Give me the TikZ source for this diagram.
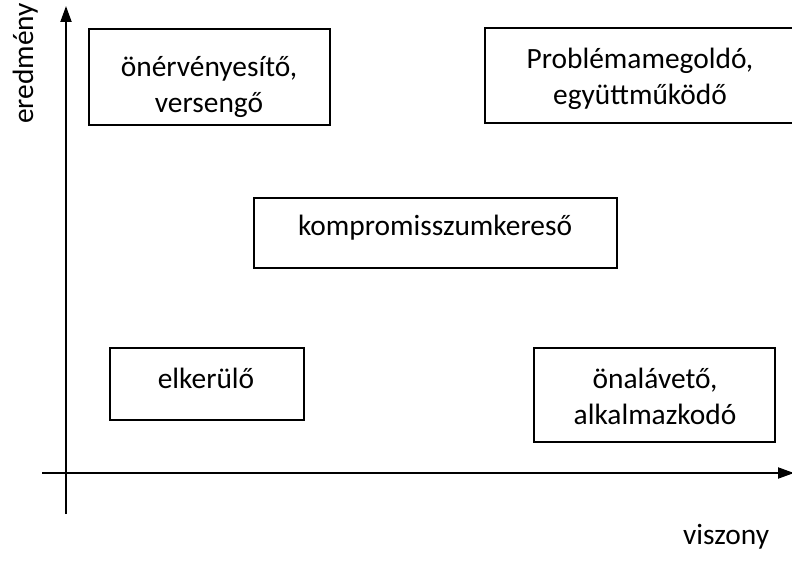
\documentclass[tikz,border=0pt]{standalone}
\usepackage{fontspec}
\setmainfont{Carlito}
\usetikzlibrary{arrows.meta}
\begin{document}
\begin{tikzpicture}[x=1pt,y=-1pt,
  box/.style={draw,line width=1.5pt},
  lbl/.style={font=\fontsize{29.4}{36}\selectfont,align=center,inner sep=0pt},
  axis/.style={line width=1.9pt,-{Triangle[length=16pt,width=11pt]}}]
\useasboundingbox (0,0) rectangle (792,561);
% axes
\coordinate (xs) at (42,473);
\coordinate (xe) at (794,473);
\coordinate (ys) at (66,514);
\coordinate (ye) at (66,6);
\draw[axis] (xs) -- (xe);
\draw[axis] (ys) -- (ye);
% category boxes
\draw[box] (89,29) rectangle (330,125);
\node[lbl] (a) at (209,87.5) {\strut önérvényesítő,\\\strut versengő};
\draw[box] (485,28) rectangle (798,123);
\node[lbl] (b) at (640,79.5) {\strut Problémamegoldó,\\\strut együttműködő};
\draw[box] (254,198) rectangle (617,268);
\node[lbl,anchor=base] (c) at (435,236) {kompromisszumkereső};
\draw[box] (110,348) rectangle (304,420);
\node[lbl,anchor=base] (d) at (206,388) {elkerülő};
\draw[box] (534,348) rectangle (775,442);
\node[lbl] (e) at (655,399) {\strut önalávető,\\\strut alkalmazkodó};
% axis titles
\node[lbl,rotate=90,anchor=base west] (ey) at (33,124) {eredmény};
\node[lbl,anchor=base west] (ex) at (683,544) {viszony};
\end{tikzpicture}
\end{document}
